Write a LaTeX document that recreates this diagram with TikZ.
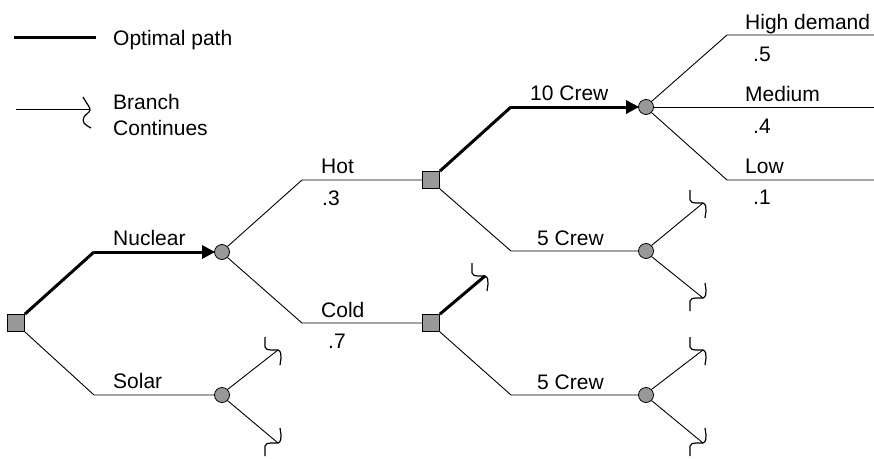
\documentclass[tikz,border=0pt]{standalone}
\usepackage{fontspec}
\setmainfont{Liberation Sans}
\usetikzlibrary{arrows.meta}
\begin{document}
\begin{tikzpicture}[x=1pt,y=-1pt,
  thin line/.style={line width=0.9pt,black},
  opt line/.style={line width=3pt,black},
  optarrow/.style={opt line,-{Triangle[length=13pt,width=13pt]},shorten >=-1pt},
  decision/.style={draw=black,line width=0.8pt,fill=gray!80!white,minimum size=17pt,inner sep=0pt},
  chance/.style={draw=black,line width=0.8pt,fill=gray!80!white,circle,minimum size=15pt,inner sep=0pt},
  lbl/.style={anchor=base west,inner sep=0pt,font=\fontsize{21}{25}\selectfont},
  squig/.style={line width=1.2pt,black,line join=round},
  squp/.pic={\draw[squig] (-13,-13) -- (-13,-3) to[out=-80,in=180] (-7,0) -- (0,0) to[out=-20,in=90] (3,8) -- (2,15);},
  sqdown/.pic={\draw[squig] (-13,13) -- (-13,3) to[out=80,in=180] (-7,0) -- (0,0) to[out=20,in=-90] (3,-8) -- (2,-15);}
]
\useasboundingbox (0,0) rectangle (874,458);

% legend
\coordinate (lg1a) at (14,37); \coordinate (lg1b) at (96,37);
\draw[opt line] (lg1a) -- (lg1b);
\node[lbl] (lopt) at (113,45) {Optimal path};
\coordinate (lg2a) at (16,109); \coordinate (lg2b) at (90,109);
\draw[thin line] (lg2a) -- (lg2b);
\draw[squig] plot[smooth,tension=0.6] coordinates {(83,97) (86,102) (90,110) (84,117) (84,123) (91,128)};
\node[lbl] (lbr) at (113,109) {Branch};
\node[lbl] (lco) at (113,135) {Continues};

% nodes
\node[decision] (root) at (16,323) {};
\node[chance] (nuc) at (222,252) {};
\node[chance] (sol) at (222,395) {};
\node[decision] (hot) at (431,180) {};
\node[decision] (cold) at (431,323) {};
\node[chance] (c10) at (646,107) {};
\node[chance] (c5a) at (646,251) {};
\node[chance] (c5b) at (646,395) {};

% corners
\coordinate (kn) at (94,252);
\coordinate (ks) at (94,395);
\coordinate (kh) at (302,180);
\coordinate (kc) at (302,323);
\coordinate (k10) at (511,107);
\coordinate (k5a) at (511,251);
\coordinate (k5b) at (511,395);
\coordinate (khi) at (727,35);
\coordinate (klo) at (727,180);
\coordinate (ehi) at (874,35);
\coordinate (eme) at (874,107);
\coordinate (elo) at (874,180);
\coordinate (s1) at (278,350);
\coordinate (s2) at (278,443);
\coordinate (a1) at (703,203);
\coordinate (a2) at (703,298);
\coordinate (b1) at (703,350);
\coordinate (b2) at (703,443);
\coordinate (ct) at (485,276);

% connectors
\draw[opt line] (root.north east) -- (kn);
\draw[optarrow] (kn) -- (nuc.west);
\draw[thin line] (root.south east) -- (ks) -- (sol.west);
\draw[thin line] (nuc.north east) -- (kh) -- (hot.west);
\draw[thin line] (nuc.south east) -- (kc) -- (cold.west);
\draw[opt line] (hot.north east) -- (k10);
\draw[optarrow] (k10) -- (c10.west);
\draw[thin line] (hot.south east) -- (k5a) -- (c5a.west);
\draw[opt line] (cold.north east) -- (ct);
\draw[thin line] (cold.south east) -- (k5b) -- (c5b.west);
\draw[thin line] (c10.north east) -- (khi) -- (ehi);
\draw[thin line] (c10.east) -- (eme);
\draw[thin line] (c10.south east) -- (klo) -- (elo);
\draw[thin line] (sol.north east) -- (s1);
\draw[thin line] (sol.south east) -- (s2);
\draw[thin line] (c5a.north east) -- (a1);
\draw[thin line] (c5a.south east) -- (a2);
\draw[thin line] (c5b.north east) -- (b1);
\draw[thin line] (c5b.south east) -- (b2);

% squiggles
\pic at (s1) {squp};
\pic at (s2) {sqdown};
\pic at (a1) {squp};
\pic at (a2) {sqdown};
\pic at (b1) {squp};
\pic at (b2) {sqdown};
\pic at (ct) {squp};

% labels
\node[lbl] (tnuc) at (113,245) {Nuclear};
\node[lbl] (tsol) at (113,388) {Solar};
\node[lbl] (thot) at (321,173) {Hot};
\node[lbl] (p3) at (322,205) {.3};
\node[lbl] (tcold) at (321,317) {Cold};
\node[lbl] (p7) at (328,348) {.7};
\node[lbl] (t10) at (530,100) {10 Crew};
\node[lbl] (t5a) at (537,245) {5 Crew};
\node[lbl] (t5b) at (537,389) {5 Crew};
\node[lbl] (thi) at (745,29) {High demand};
\node[lbl] (p5) at (753,61) {.5};
\node[lbl] (tme) at (745,101) {Medium};
\node[lbl] (p4) at (753,133) {.4};
\node[lbl] (tlo) at (745,173) {Low};
\node[lbl] (p1) at (753,204) {.1};
\end{tikzpicture}
\end{document}
